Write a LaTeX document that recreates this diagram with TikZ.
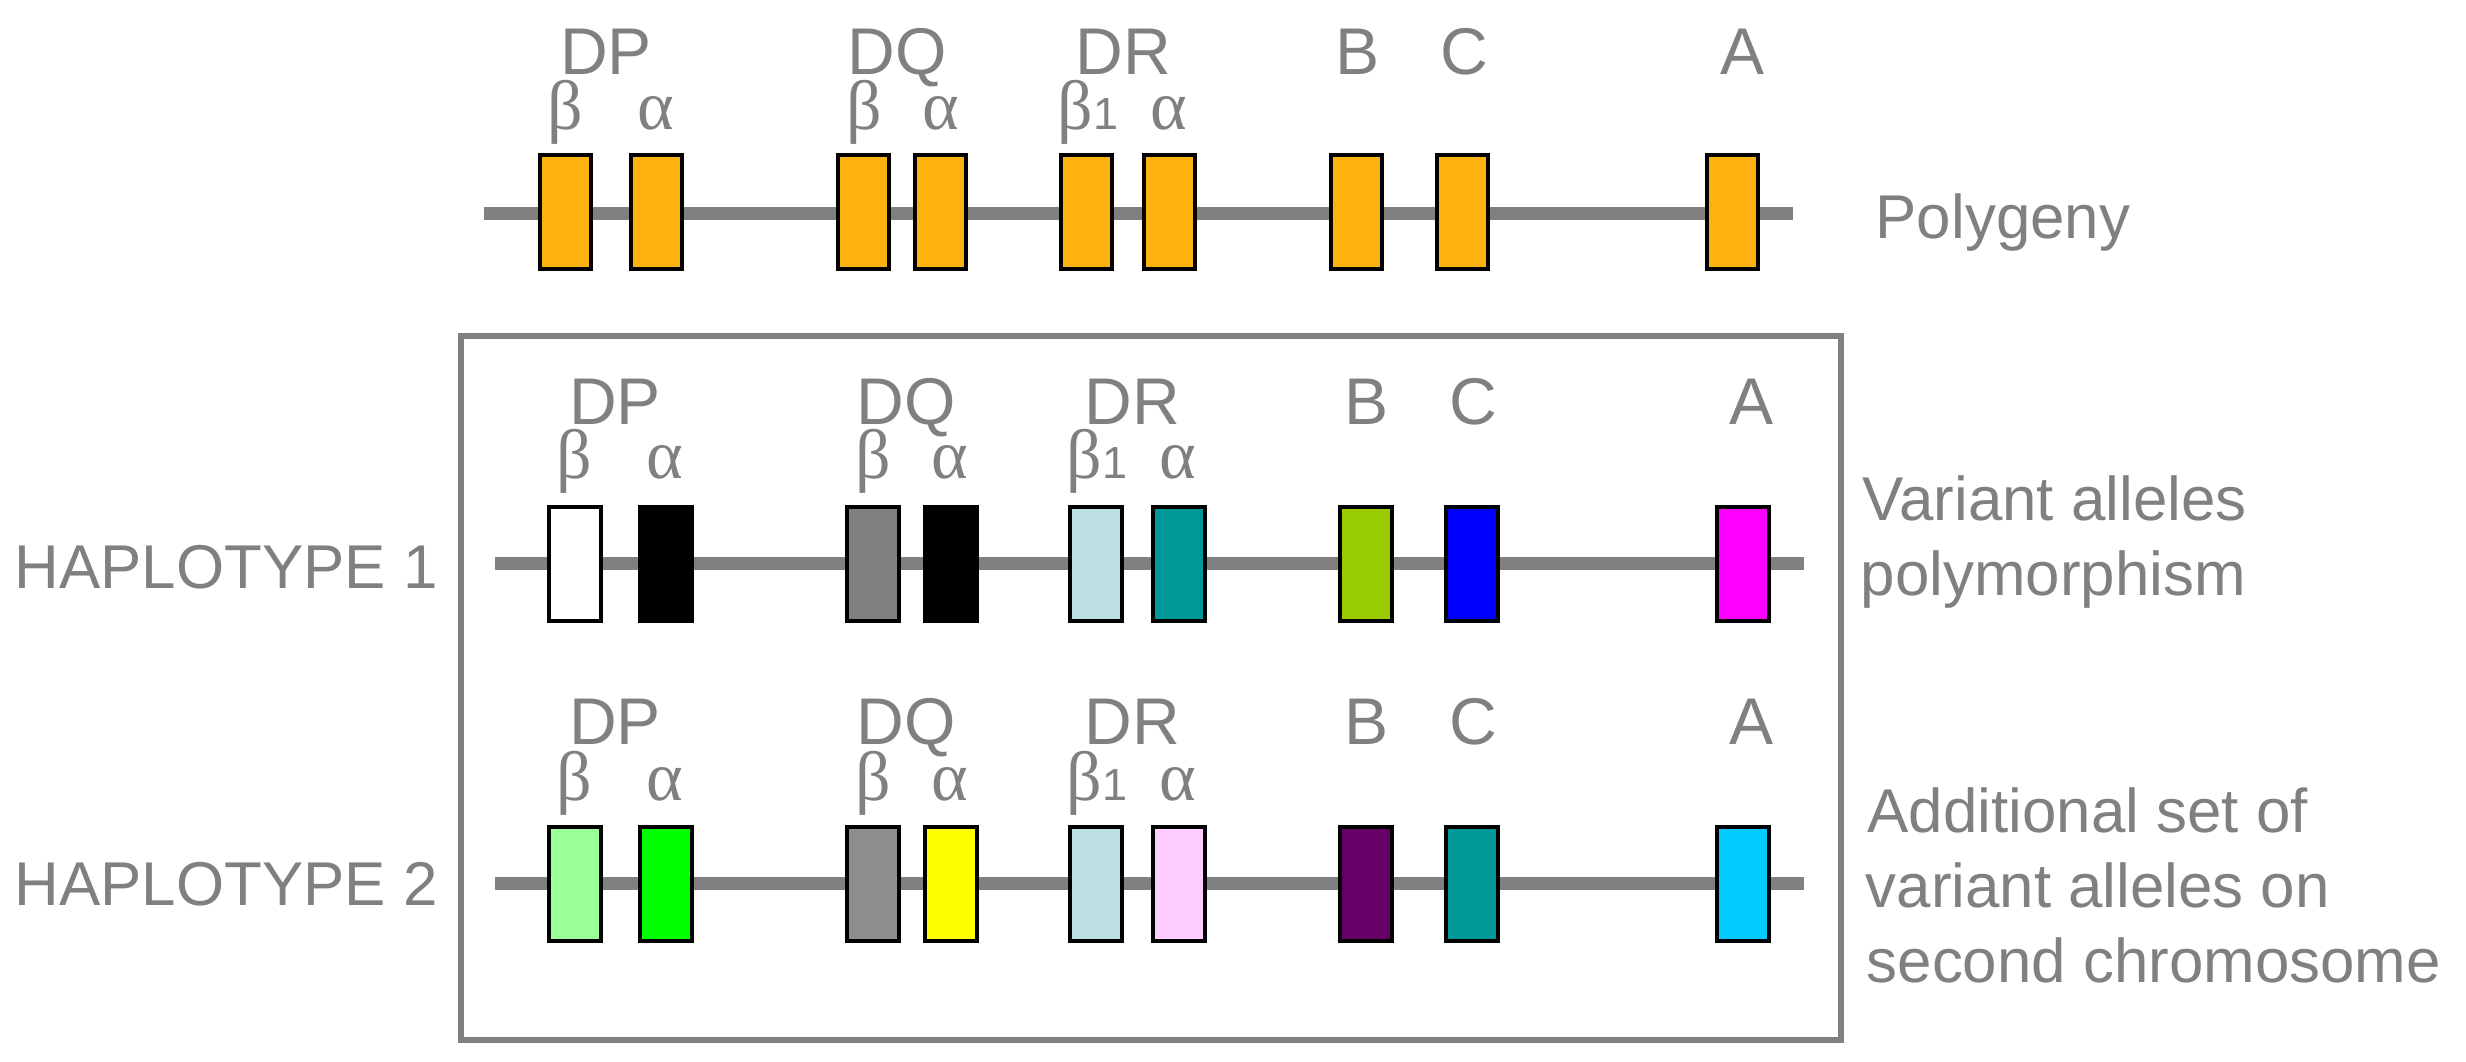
\documentclass[tikz,border=0pt]{standalone}
\usepackage{fontspec}
\setmainfont{Liberation Sans}
\newfontfamily\grk{Liberation Serif}
\definecolor{linegray}{RGB}{128,128,128}
\definecolor{orangeg}{RGB}{255,177,15}
\definecolor{gA}{RGB}{128,128,128}
\definecolor{gB}{RGB}{142,142,142}
\definecolor{lblue}{RGB}{189,224,228}
\definecolor{teal2}{RGB}{0,153,153}
\definecolor{ygreen}{RGB}{153,204,0}
\definecolor{blue2}{RGB}{0,0,255}
\definecolor{magenta2}{RGB}{255,0,255}
\definecolor{lgreen}{RGB}{153,255,153}
\definecolor{green2}{RGB}{0,255,0}
\definecolor{yellow2}{RGB}{255,255,0}
\definecolor{pink2}{RGB}{255,204,255}
\definecolor{purple2}{RGB}{102,0,102}
\definecolor{sky2}{RGB}{0,204,255}
\newcommand{\mhclabels}[4]{%
  \foreach \n/\x in {DP/606, DQ/897, DR/1123, B/1358, C/1464, A/1743}
    \node[lbl] (#1-\n) at ({\x+#2},#3) {\n};
  \foreach \n/\t/\x in {dpb/β/565, dpa/α/656, dqb/β/864, dqa/α/941, dra/α/1169}
    \node[grklbl] (#1-g\n) at ({\x+#2},#4) {\t};
  \node[grklbl] (#1-gdrb) at ({1088+#2},#4) {β\normalfont\fontsize{12.8}{13}\selectfont 1};
}
\begin{document}
\begin{tikzpicture}[x=0.1mm,y=-0.1mm,
  chrom/.style={line width=1.3mm, draw=linegray},
  gene/.style={draw=black, line width=0.4mm, minimum width=5.1mm, minimum height=11.4mm, inner sep=0pt},
  hgene/.style={gene, minimum width=5.2mm},
  lbl/.style={text=linegray, font=\fontsize{18.8}{20}\selectfont, anchor=base, inner sep=0pt},
  grklbl/.style={text=linegray, font=\grk\fontsize{19.9}{20}\selectfont, anchor=base, inner sep=0pt},
  side/.style={text=linegray, font=\fontsize{17.6}{20}\selectfont, anchor=base west, inner sep=0pt},
  frame/.style={draw=linegray, line width=0.65mm}]
\useasboundingbox (0,0) rectangle (2466,1061);

% frame
\draw[frame] (461,336) rectangle (1841,1040);

% top row: polygeny
\coordinate (t-l) at (484,213);
\coordinate (t-r) at (1793,213);
\draw[chrom] (t-l) -- (t-r);
\foreach \n/\x in {dpb/565, dpa/656, dqb/863, dqa/940, drb/1086, dra/1169, b/1356, c/1462, a/1732}
  \node[gene, fill=orangeg] (t-\n) at (\x,212) {};
\mhclabels{t}{0}{74}{129}
\node[side] (poly) at (1875,238) {Polygeny};

% haplotype 1
\coordinate (h1-l) at (495,563);
\coordinate (h1-r) at (1804,563);
\draw[chrom] (h1-l) -- (h1-r);
\foreach \n/\x/\c in {dpb/575/white, dpa/666/black, dqb/873/gA, dqa/951/black, drb/1096/lblue, dra/1179/teal2, b/1366/ygreen, c/1472/blue2, a/1743/magenta2}
  \node[hgene, fill=\c] (h1-\n) at (\x,563.5) {};
\mhclabels{h1}{9}{424}{478}
\node[side] (hap1) at (14,588) {HAPLOTYPE 1};
\node[side] (v1a) at (1862,520) {Variant alleles};
\node[side] (v1b) at (1860,595) {polymorphism};

% haplotype 2
\coordinate (h2-l) at (495,883);
\coordinate (h2-r) at (1804,883);
\draw[chrom] (h2-l) -- (h2-r);
\foreach \n/\x/\c in {dpb/575/lgreen, dpa/666/green2, dqb/873/gB, dqa/951/yellow2, drb/1096/lblue, dra/1179/pink2, b/1366/purple2, c/1472/teal2, a/1743/sky2}
  \node[hgene, fill=\c] (h2-\n) at (\x,883.5) {};
\mhclabels{h2}{9}{744}{800}
\node[side] (hap2) at (14,905) {HAPLOTYPE 2};
\node[side] (v2a) at (1867,832) {Additional set of};
\node[side] (v2b) at (1865,907) {variant alleles on};
\node[side] (v2c) at (1866,982) {second chromosome};
\end{tikzpicture}
\end{document}
